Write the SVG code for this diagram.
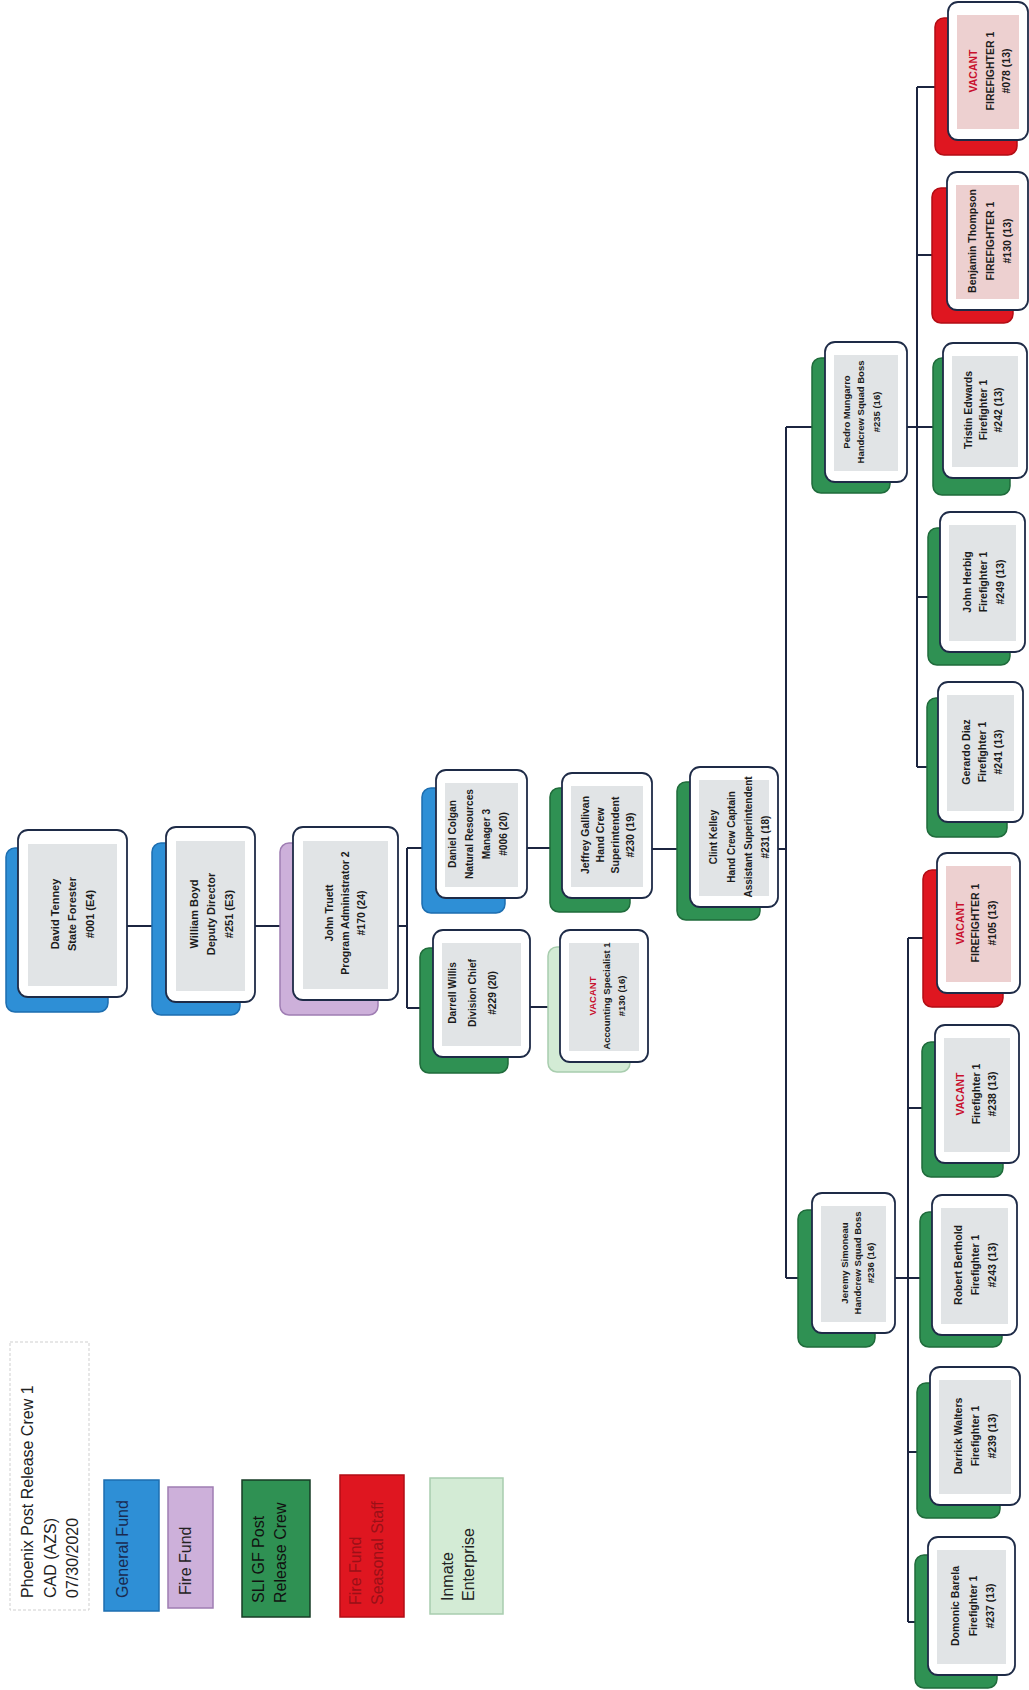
<svg xmlns="http://www.w3.org/2000/svg" width="1029" height="1690" viewBox="0 0 1029 1690">
<style>
.bg{fill:#fff}
.card{fill:#fff;stroke:#1e2b47;stroke-width:1.8}
.inner{fill:#e1e4e6}
.pink{fill:#edd0d0}
.sh{stroke-width:1.5}
.blue{fill:#2e8fd6;stroke:#1d6eb0}
.green{fill:#2f9153;stroke:#1f6b3b}
.lilac{fill:#cdb0da;stroke:#9f7db3}
.red{fill:#df1620;stroke:#b30d14}
.pale{fill:#d3ebd5;stroke:#a8cdae}
.t{font-family:"Liberation Sans",Arial,sans-serif;font-weight:bold;fill:#1b1b1b;text-anchor:middle}
.v{fill:#c8102e}
.conn{stroke:#1c2540;stroke-width:2;fill:none}
.lg{font-family:"Liberation Sans",Arial,sans-serif;font-size:16px;fill:#222}
.lbox{stroke-width:1.5}
</style>
<rect class="bg" x="0" y="0" width="1029" height="1690"/>

<g id="connectors">
<path class="conn" d="M127,926 H166 M255,926 H293 M398,926 H407 M407,848 V1008 M407,848 H436 M407,1008 H433 M527,848 H562 M652,849 H690 M530,1007 H560 M778,849 H786 M786,427 V1278 M786,427 H825 M786,1278 H812 M907,427 H943 M917,87 V767 M917,87 H948 M917,255 H947 M917,597 H940 M917,767 H938 M895,1278 H932 M908,938 V1622 M908,938 H937 M908,1108 H935 M908,1452 H930 M908,1622 H928"/>
</g>

<g id="n-tenney">
<rect class="sh blue" x="6" y="848" width="102" height="164" rx="9"/>
<rect class="card" x="18" y="830" width="109" height="167" rx="10"/>
<rect class="inner" x="28" y="844" width="89" height="142"/>
<text class="t" font-size="11" transform="translate(0,914) rotate(-90)"><tspan x="0" y="59">David Tenney</tspan><tspan x="0" y="76">State Forester</tspan><tspan x="0" y="94">#001 (E4)</tspan></text>
</g>

<g id="n-boyd">
<rect class="sh blue" x="152" y="843" width="88" height="172" rx="9"/>
<rect class="card" x="166" y="827" width="89" height="175" rx="10"/>
<rect class="inner" x="176" y="841" width="69" height="150"/>
<text class="t" font-size="11" transform="translate(0,914) rotate(-90)"><tspan x="0" y="198">William Boyd</tspan><tspan x="0" y="215">Deputy Director</tspan><tspan x="0" y="233">#251 (E3)</tspan></text>
</g>

<g id="n-truett">
<rect class="sh lilac" x="280" y="843" width="98" height="172" rx="9"/>
<rect class="card" x="293" y="827" width="105" height="173" rx="10"/>
<rect class="inner" x="303" y="841" width="85" height="148"/>
<text class="t" font-size="10.5" transform="translate(0,913) rotate(-90)"><tspan x="0" y="333">John Truett</tspan><tspan x="0" y="349">Program Administrator 2</tspan><tspan x="0" y="365">#170 (24)</tspan></text>
</g>

<g id="n-colgan">
<rect class="sh blue" x="422" y="788" width="83" height="125" rx="9"/>
<rect class="card" x="436" y="770" width="91" height="128" rx="10"/>
<rect class="inner" x="445" y="783" width="73" height="104"/>
<text class="t" font-size="10.2" transform="translate(0,834) rotate(-90)"><tspan x="0" y="456">Daniel Colgan</tspan><tspan x="0" y="473">Natural Resources</tspan><tspan x="0" y="490">Manager 3</tspan><tspan x="0" y="507">#006 (20)</tspan></text>
</g>

<g id="n-willis">
<rect class="sh green" x="420" y="948" width="88" height="125" rx="9"/>
<rect class="card" x="433" y="930" width="97" height="127" rx="10"/>
<rect class="inner" x="442" y="943" width="79" height="103"/>
<text class="t" font-size="10.2" transform="translate(0,993) rotate(-90)"><tspan x="0" y="456">Darrell Willis</tspan><tspan x="0" y="476">Division Chief</tspan><tspan x="0" y="496">#229 (20)</tspan></text>
</g>

<g id="n-gallivan">
<rect class="sh green" x="550" y="788" width="80" height="124" rx="9"/>
<rect class="card" x="562" y="773" width="90" height="125" rx="10"/>
<rect class="inner" x="571" y="786" width="72" height="101"/>
<text class="t" font-size="10.5" transform="translate(0,835) rotate(-90)"><tspan x="0" y="589">Jeffrey Gallivan</tspan><tspan x="0" y="604">Hand Crew</tspan><tspan x="0" y="619">Superintendent</tspan><tspan x="0" y="634">#230 (19)</tspan></text>
</g>

<g id="n-kelley">
<rect class="sh green" x="677" y="782" width="83" height="138" rx="9"/>
<rect class="card" x="690" y="767" width="88" height="140" rx="10"/>
<rect class="inner" x="699" y="780" width="70" height="116"/>
<text class="t" font-size="10" transform="translate(0,837) rotate(-90)"><tspan x="0" y="716.5">Clint Kelley</tspan><tspan x="0" y="734.5">Hand Crew Captain</tspan><tspan x="0" y="751.5">Assistant Superintendent</tspan><tspan x="0" y="768.5">#231 (18)</tspan></text>
</g>

<g id="n-accounting">
<rect class="sh pale" x="548" y="947" width="82" height="125" rx="9"/>
<rect class="card" x="560" y="930" width="88" height="132" rx="10"/>
<rect class="inner" x="569" y="943" width="70" height="108"/>
<text class="t" font-size="9.5" transform="translate(0,996) rotate(-90)"><tspan class="v" x="0" y="595.5">VACANT</tspan><tspan x="0" y="610">Accounting Specialist 1</tspan><tspan x="0" y="625">#130 (16)</tspan></text>
</g>

<g id="n-pedro">
<rect class="sh green" x="812" y="358" width="78" height="135" rx="9"/>
<rect class="card" x="825" y="342" width="82" height="140" rx="10"/>
<rect class="inner" x="834" y="355" width="64" height="116"/>
<text class="t" font-size="9.5" transform="translate(0,412) rotate(-90)"><tspan x="0" y="850">Pedro Mungarro</tspan><tspan x="0" y="864">Handcrew Squad Boss</tspan><tspan x="0" y="880">#235 (16)</tspan></text>
</g>

<g id="n-jeremy">
<rect class="sh green" x="798" y="1210" width="77" height="137" rx="9"/>
<rect class="card" x="812" y="1193" width="83" height="140" rx="10"/>
<rect class="inner" x="821" y="1206" width="65" height="116"/>
<text class="t" font-size="9.5" transform="translate(0,1263) rotate(-90)"><tspan x="0" y="848">Jeremy Simoneau</tspan><tspan x="0" y="861">Handcrew Squad Boss</tspan><tspan x="0" y="874">#236 (16)</tspan></text>
</g>

<g id="n-vacant078">
<rect class="sh red" x="935" y="18" width="82" height="137" rx="9"/>
<rect class="card" x="948" y="2" width="80" height="138" rx="10"/>
<rect class="inner pink" x="957" y="15" width="62" height="114"/>
<text class="t" font-size="10.5" transform="translate(0,71) rotate(-90)"><tspan class="v" x="0" y="977">VACANT</tspan><tspan x="0" y="994">FIREFIGHTER 1</tspan><tspan x="0" y="1010">#078 (13)</tspan></text>
</g>

<g id="n-benjamin">
<rect class="sh red" x="932" y="188" width="81" height="135" rx="9"/>
<rect class="card" x="947" y="172" width="81" height="138" rx="10"/>
<rect class="inner pink" x="956" y="185" width="63" height="114"/>
<text class="t" font-size="10.5" transform="translate(0,241) rotate(-90)"><tspan x="0" y="976">Benjamin Thompson</tspan><tspan x="0" y="994">FIREFIGHTER 1</tspan><tspan x="0" y="1011">#130 (13)</tspan></text>
</g>

<g id="n-tristin">
<rect class="sh green" x="933" y="358" width="77" height="137" rx="9"/>
<rect class="card" x="943" y="343" width="84" height="135" rx="10"/>
<rect class="inner" x="952" y="356" width="66" height="111"/>
<text class="t" font-size="10.5" transform="translate(0,410) rotate(-90)"><tspan x="0" y="972">Tristin Edwards</tspan><tspan x="0" y="987">Firefighter 1</tspan><tspan x="0" y="1002">#242 (13)</tspan></text>
</g>

<g id="n-herbig">
<rect class="sh green" x="928" y="528" width="82" height="137" rx="9"/>
<rect class="card" x="940" y="512" width="85" height="140" rx="10"/>
<rect class="inner" x="949" y="525" width="67" height="116"/>
<text class="t" font-size="10.5" transform="translate(0,582) rotate(-90)"><tspan x="0" y="971">John Herbig</tspan><tspan x="0" y="987">Firefighter 1</tspan><tspan x="0" y="1004">#249 (13)</tspan></text>
</g>

<g id="n-diaz">
<rect class="sh green" x="927" y="698" width="80" height="139" rx="9"/>
<rect class="card" x="938" y="682" width="85" height="140" rx="10"/>
<rect class="inner" x="947" y="695" width="67" height="116"/>
<text class="t" font-size="10.5" transform="translate(0,752) rotate(-90)"><tspan x="0" y="970">Gerardo Diaz</tspan><tspan x="0" y="986">Firefighter 1</tspan><tspan x="0" y="1002">#241 (13)</tspan></text>
</g>

<g id="n-vacant105">
<rect class="sh red" x="923" y="870" width="80" height="137" rx="9"/>
<rect class="card" x="937" y="853" width="83" height="140" rx="10"/>
<rect class="inner pink" x="946" y="866" width="65" height="116"/>
<text class="t" font-size="10.5" transform="translate(0,923) rotate(-90)"><tspan class="v" x="0" y="964">VACANT</tspan><tspan x="0" y="979">FIREFIGHTER 1</tspan><tspan x="0" y="996">#105 (13)</tspan></text>
</g>

<g id="n-vacant238">
<rect class="sh green" x="922" y="1042" width="81" height="135" rx="9"/>
<rect class="card" x="935" y="1025" width="84" height="138" rx="10"/>
<rect class="inner" x="944" y="1038" width="66" height="114"/>
<text class="t" font-size="10.5" transform="translate(0,1094) rotate(-90)"><tspan class="v" x="0" y="964">VACANT</tspan><tspan x="0" y="980">Firefighter 1</tspan><tspan x="0" y="996">#238 (13)</tspan></text>
</g>

<g id="n-robert">
<rect class="sh green" x="920" y="1212" width="82" height="135" rx="9"/>
<rect class="card" x="932" y="1195" width="85" height="140" rx="10"/>
<rect class="inner" x="941" y="1208" width="67" height="116"/>
<text class="t" font-size="10.5" transform="translate(0,1265) rotate(-90)"><tspan x="0" y="962">Robert Berthold</tspan><tspan x="0" y="979">Firefighter 1</tspan><tspan x="0" y="996">#243 (13)</tspan></text>
</g>

<g id="n-darrick">
<rect class="sh green" x="917" y="1383" width="83" height="135" rx="9"/>
<rect class="card" x="930" y="1367" width="90" height="138" rx="10"/>
<rect class="inner" x="939" y="1380" width="72" height="114"/>
<text class="t" font-size="10.5" transform="translate(0,1436) rotate(-90)"><tspan x="0" y="962">Darrick Walters</tspan><tspan x="0" y="979">Firefighter 1</tspan><tspan x="0" y="996">#239 (13)</tspan></text>
</g>

<g id="n-domonic">
<rect class="sh green" x="915" y="1555" width="82" height="133" rx="9"/>
<rect class="card" x="928" y="1537" width="87" height="138" rx="10"/>
<rect class="inner" x="937" y="1550" width="69" height="114"/>
<text class="t" font-size="10.5" transform="translate(0,1606) rotate(-90)"><tspan x="0" y="959">Domonic Barela</tspan><tspan x="0" y="977">Firefighter 1</tspan><tspan x="0" y="994">#237 (13)</tspan></text>
</g>

<g id="legend">
<rect x="10" y="1342" width="79" height="268" fill="#fff" stroke="#cfcfcf" stroke-width="1" stroke-dasharray="3 2"/>
<text class="lg" transform="translate(32.6,1598) rotate(-90)">Phoenix Post Release Crew 1</text>
<text class="lg" transform="translate(55.6,1598) rotate(-90)">CAD (AZS)</text>
<text class="lg" transform="translate(77.6,1598) rotate(-90)">07/30/2020</text>

<rect class="lbox blue" x="104" y="1480" width="55" height="131"/>
<text class="lg" style="fill:#1a2a50" transform="translate(127.6,1598) rotate(-90)">General Fund</text>

<rect class="lbox lilac" x="168" y="1487" width="45" height="121"/>
<text class="lg" transform="translate(190.6,1595) rotate(-90)">Fire Fund</text>

<rect class="lbox green" x="242" y="1480" width="68" height="137" style="stroke:#173d26"/>
<text class="lg" style="fill:#111" transform="translate(263.6,1603) rotate(-90)">SLI GF Post</text>
<text class="lg" style="fill:#111" transform="translate(285.6,1603) rotate(-90)">Release Crew</text>

<rect class="lbox red" x="340" y="1475" width="64" height="142"/>
<text class="lg" style="fill:#9b1017" transform="translate(360.6,1605) rotate(-90)">Fire Fund</text>
<text class="lg" style="fill:#9b1017" transform="translate(382.6,1605) rotate(-90)">Seasonal Staff</text>

<rect class="lbox pale" x="430" y="1478" width="73" height="136"/>
<text class="lg" transform="translate(452.6,1601) rotate(-90)">Inmate</text>
<text class="lg" transform="translate(473.6,1601) rotate(-90)">Enterprise</text>
</g>
</svg>
